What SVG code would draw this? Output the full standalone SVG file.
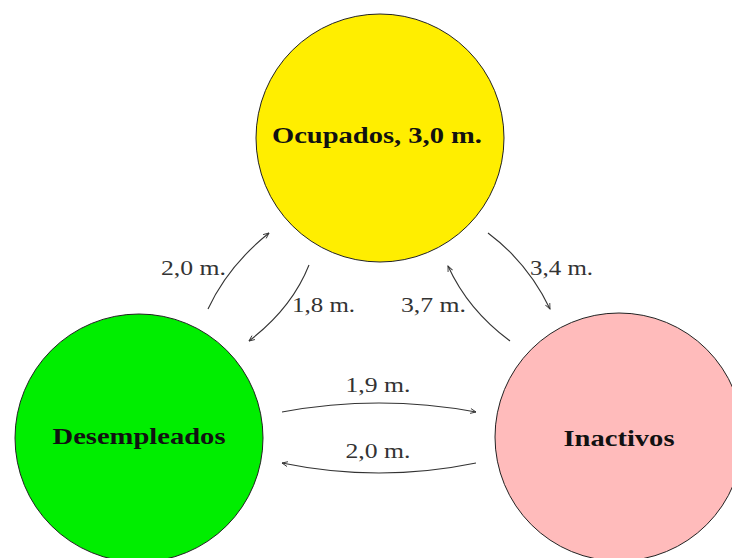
<svg xmlns="http://www.w3.org/2000/svg" width="732" height="558" viewBox="0 0 732 558">
<style>
.node{stroke:#222;stroke-width:1}
.lbl{font-family:"Liberation Serif","Times New Roman",serif;font-weight:bold;font-size:24px;fill:#111}
.edge{fill:none;stroke:#333;stroke-width:1.1}
.elbl{font-family:"Liberation Serif","Times New Roman",serif;font-size:22px;fill:#333}
</style>
<defs>
<marker id="arr" viewBox="0 0 10 10" refX="9" refY="5" markerWidth="7" markerHeight="7" orient="auto" markerUnits="userSpaceOnUse">
<path d="M1,1.5 L9,5 L1,8.5" fill="none" stroke="#333" stroke-width="1.3"/>
</marker>
</defs>
<rect width="732" height="558" fill="#fff"/>
<g id="ocupados">
<circle class="node" cx="380" cy="138" r="124" fill="#ffee00"/>
<text class="lbl" x="377" y="143" text-anchor="middle" textLength="210" lengthAdjust="spacingAndGlyphs">Ocupados, 3,0 m.</text>
</g>
<g id="desempleados">
<circle class="node" cx="139" cy="438" r="124" fill="#00ee00"/>
<text class="lbl" x="139" y="444" text-anchor="middle" textLength="173" lengthAdjust="spacingAndGlyphs">Desempleados</text>
</g>
<g id="inactivos">
<circle class="node" cx="619" cy="437" r="124" fill="#ffbbbb"/>
<text class="lbl" x="619" y="446" text-anchor="middle" textLength="111" lengthAdjust="spacingAndGlyphs">Inactivos</text>
</g>
<g id="connectors">
<path class="edge" d="M208,309 Q228,266 269,233" marker-end="url(#arr)"/>
<path class="edge" d="M309,265 Q292,308 249,341" marker-end="url(#arr)"/>
<path class="edge" d="M488,233 Q528,263 550,309" marker-end="url(#arr)"/>
<path class="edge" d="M510,341 Q468,310 448,266" marker-end="url(#arr)"/>
<path class="edge" d="M282,412 Q379,394 476,412" marker-end="url(#arr)"/>
<path class="edge" d="M476,463 Q379,483 282,463" marker-end="url(#arr)"/>
<text class="elbl" x="226" y="275" text-anchor="end" textLength="65" lengthAdjust="spacingAndGlyphs">2,0 m.</text>
<text class="elbl" x="292" y="312" textLength="63" lengthAdjust="spacingAndGlyphs">1,8 m.</text>
<text class="elbl" x="530" y="275" textLength="63" lengthAdjust="spacingAndGlyphs">3,4 m.</text>
<text class="elbl" x="466" y="312" text-anchor="end" textLength="65" lengthAdjust="spacingAndGlyphs">3,7 m.</text>
<text class="elbl" x="378" y="392" text-anchor="middle" textLength="65" lengthAdjust="spacingAndGlyphs">1,9 m.</text>
<text class="elbl" x="378" y="458" text-anchor="middle" textLength="65" lengthAdjust="spacingAndGlyphs">2,0 m.</text>
</g>
</svg>
